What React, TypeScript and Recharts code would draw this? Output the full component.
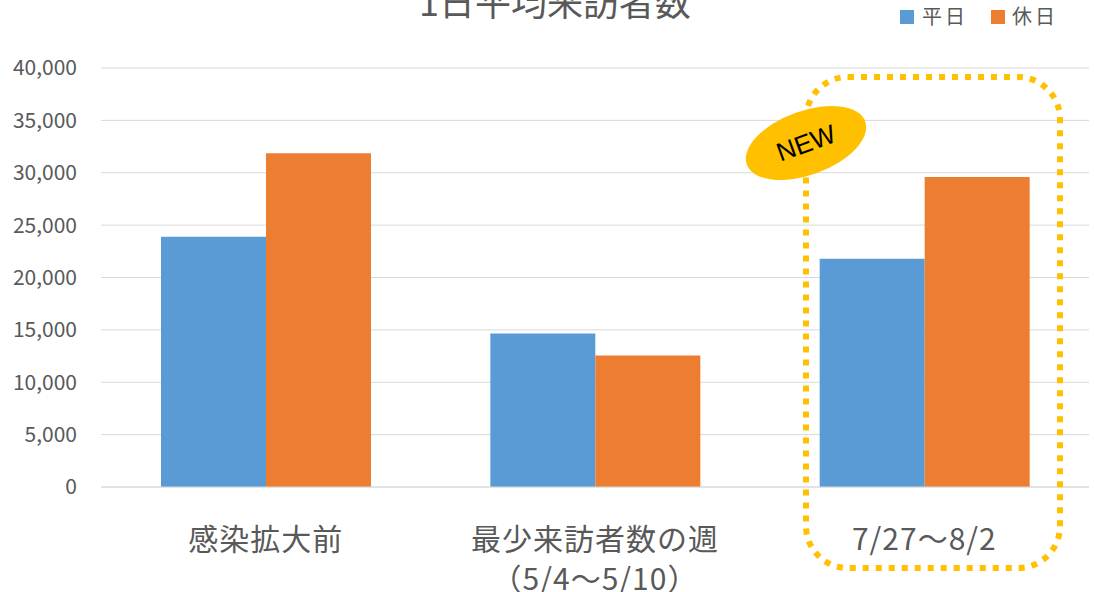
import { BarChart, Bar, XAxis, YAxis, CartesianGrid } from "recharts";

const categories = ["感染拡大前", "最少来訪者数の週\n（5/4～5/10）", "7/27～8/2"];
const weekday = [23900, 14650, 21800];
const holiday = [31850, 12550, 29600];
const yTicks = [0, 5000, 10000, 15000, 20000, 25000, 30000, 35000, 40000];

const data = categories.map((name, i) => ({ name, weekday: weekday[i], holiday: holiday[i] }));

const font = "'Noto Sans CJK JP', 'Noto Sans', sans-serif";
const textColor = "#595959";

function CategoryTick(props: any) {
  const { x, y, payload } = props;
  const lines = String(payload.value).split("\n");
  return (
    <g>
      {lines.map((l: string, i: number) => (
        <text key={i} x={x} y={y + 55 + i * 40} textAnchor="middle" fill={textColor} fontSize={30} fontFamily={font} letterSpacing={1}>
          {l}
        </text>
      ))}
    </g>
  );
}

export default function App() {
  return (
    <div style={{ position: "absolute", left: 0, top: 0, width: 1094, height: 592, background: "#fff", overflow: "hidden" }}>
      <BarChart width={1094} height={592} data={data} margin={{ top: 68, right: 5, left: 0, bottom: 75 }} barGap={0} barSize={105}>
        <CartesianGrid stroke="#d9d9d9" vertical={false} />
        <XAxis dataKey="name" height={30} tick={<CategoryTick />} axisLine={{ stroke: "#d9d9d9" }} tickLine={false} interval={0} />
        <YAxis
          domain={[0, 40000]}
          ticks={yTicks}
          width={101}
          axisLine={false}
          tickLine={false}
          tickMargin={18}
          tick={{ fill: textColor, fontSize: 21, fontFamily: font }}
          tickFormatter={(v) => v.toLocaleString("en-US")}
        />
        <Bar dataKey="weekday" name="平日" fill="#5b9bd5" isAnimationActive={false} />
        <Bar dataKey="holiday" name="休日" fill="#ed7d31" isAnimationActive={false} />
      </BarChart>
      <svg width={1094} height={592} style={{ position: "absolute", left: 0, top: 0, pointerEvents: "none" }}>
        <text x={555} y={16} textAnchor="middle" fill={textColor} fontSize={36} fontFamily={font}>1日平均来訪者数</text>
        <rect x={900} y={10} width={14} height={14} fill="#5b9bd5" />
        <text x={922} y={24} fill={textColor} fontSize={20} fontFamily={font} letterSpacing={3}>平日</text>
        <rect x={991} y={10} width={14} height={14} fill="#ed7d31" />
        <text x={1012} y={24} fill={textColor} fontSize={20} fontFamily={font} letterSpacing={3}>休日</text>
        <rect x={806} y={77} width={254} height={491} rx={42} ry={42} fill="none" stroke="#ffc000" strokeWidth={6} strokeDasharray="6 7" />
        <g transform="rotate(-20 806 143)">
          <ellipse cx={806} cy={143} rx={63} ry={32} fill="#ffc000" />
          <text x={806} y={152} textAnchor="middle" fill="#000" fontSize={26} fontFamily="'Liberation Sans', Arial, sans-serif">NEW</text>
        </g>
      </svg>
    </div>
  );
}
